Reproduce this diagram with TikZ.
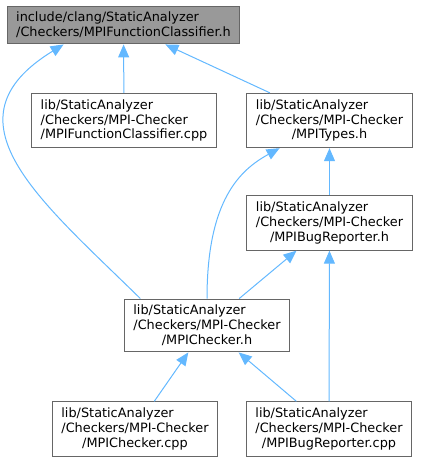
\documentclass[tikz,border=0pt]{standalone}
\usepackage{fontspec}
\setmainfont{DejaVu Sans}
\usetikzlibrary{arrows.meta}
\definecolor{edgeblue}{HTML}{63B8FF}
\definecolor{boxgray}{HTML}{666666}
\definecolor{rootfill}{HTML}{999999}

\newlength\lblw
% first lines left-justified, last line centred (as dot does)
\newcommand{\flabel}[3]{%
  \settowidth{\dimen0}{#2}\settowidth{\dimen2}{#3}%
  \ifdim\dimen2>\dimen0 \dimen0=\dimen2\fi
  \global\lblw=\dimen0
  \makebox[\lblw][l]{#1}\\\makebox[\lblw][l]{#2}\\#3}

\begin{document}
\begin{tikzpicture}[
    x=1bp, y=-1bp,
    font=\fontsize{12.9}{15}\selectfont,
    >={Triangle[length=13bp, width=11bp]},
    file/.style={draw=boxgray, line width=1bp, fill=white, align=center,
                 inner xsep=9bp, inner ysep=6bp},
    root/.style={file, fill=rootfill, align=left},
    dep/.style={->, line width=1bp, edgeblue},
]
    \useasboundingbox (0,0) rectangle (421,461);

    % ============================================================
    %  FILES
    % ============================================================
    \node[root] (top) at (123.5,25)
        {include/clang/StaticAnalyzer\\/Checkers/MPIFunctionClassifier.h};
    \node[file] (fcpp) at (124,120.5)
        {\flabel{lib/StaticAnalyzer}{/Checkers/MPI-Checker}{/MPIFunctionClassifier.cpp}};
    \node[file] (types) at (329.5,120.5)
        {\flabel{lib/StaticAnalyzer}{/Checkers/MPI-Checker}{/MPITypes.h}};
    \node[file] (bugh) at (329.5,223)
        {\flabel{lib/StaticAnalyzer}{/Checkers/MPI-Checker}{/MPIBugReporter.h}};
    \node[file] (checkh) at (207,325.5)
        {\flabel{lib/StaticAnalyzer}{/Checkers/MPI-Checker}{/MPIChecker.h}};
    \node[file] (checkcpp) at (135,429)
        {\flabel{lib/StaticAnalyzer}{/Checkers/MPI-Checker}{/MPIChecker.cpp}};
    \node[file] (bugcpp) at (329,429)
        {\flabel{lib/StaticAnalyzer}{/Checkers/MPI-Checker}{/MPIBugReporter.cpp}};

    % ============================================================
    %  INCLUDE EDGES (arrow points at the included file)
    % ============================================================
    \draw[dep] (fcpp) -- (top);
    \draw[dep] (types) -- (top);
    \draw[dep] (checkh.158) .. controls (40,200) and (-60,120) .. (top.198);
    \draw[dep] (checkh.north) .. controls (207,200) and (240,170) .. (types.209);
    \draw[dep] (bugh) -- (types);
    \draw[dep] (checkh) -- (bugh);
    \draw[dep] (bugcpp) -- (bugh);
    \draw[dep] (checkcpp) -- (checkh);
    \draw[dep] (bugcpp) -- (checkh);

\end{tikzpicture}
\end{document}
